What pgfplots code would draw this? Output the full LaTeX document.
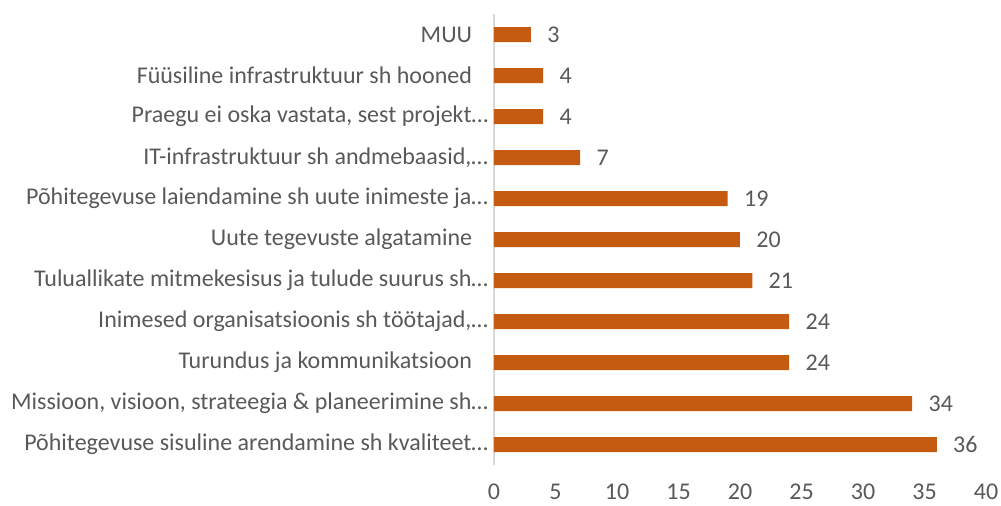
\documentclass[border=0pt]{standalone}
\usepackage{fontspec}
\setmainfont{Carlito}
\usepackage{pgfplots}
\pgfplotsset{compat=1.18}
\definecolor{barc}{HTML}{C55A11}
\definecolor{txt}{HTML}{595959}
\definecolor{axl}{HTML}{D9D9D9}
\begin{document}
\begin{tikzpicture}
\useasboundingbox (0,0) rectangle (500.5pt,252.5pt);
\begin{axis}[
  at={(247pt,20pt)}, anchor=south west,
  scale only axis, width=246pt, height=225.5pt,
  xbar, bar width=7.5pt,
  xmin=0, xmax=40, xtick={0,5,...,40},
  ymin=-0.5, ymax=10.5,
  ytick={0,...,10},
  yticklabels={
    {Põhitegevuse sisuline arendamine sh kvaliteet…},
    {Missioon, visioon, strateegia \& planeerimine sh…},
    {Turundus ja kommunikatsioon\hspace*{8pt}},
    {Inimesed organisatsioonis sh töötajad,…},
    {Tuluallikate mitmekesisus ja tulude suurus sh…},
    {Uute tegevuste algatamine\hspace*{8pt}},
    {Põhitegevuse laiendamine sh uute inimeste ja…},
    {IT-infrastruktuur sh andmebaasid,…},
    {Praegu ei oska vastata, sest projekt…},
    {Füüsiline infrastruktuur sh hooned\hspace*{8pt}},
    {MUU\hspace*{8pt}}},
  axis lines=left,
  x axis line style={draw=none},
  y axis line style={-, draw=axl, line width=0.8pt},
  tick align=outside,
  ytick style={draw=none},
  xtick style={draw=none},
  extra y ticks={-0.5,0.5,...,10.5},
  extra y tick labels={},
  extra y tick style={major tick length=3.5pt, tick style={draw=axl, line width=0.8pt}},
  ticklabel style={font=\fontsize{12}{14}\selectfont, text=txt},
  /pgf/number format/assume math mode=true,
  yticklabel style={anchor=east, inner sep=0pt, xshift=1.5pt},
  xticklabel style={anchor=north, inner sep=0pt, yshift=-5.2pt},
  nodes near coords,
  nodes near coords style={anchor=west, inner sep=0pt, xshift=8pt, font=\fontsize{12}{14}\selectfont, text=txt},
  clip=false,
]
\addplot[fill=barc, draw=none] coordinates {
  (36,0) (34,1) (24,2) (24,3) (21,4) (20,5) (19,6) (7,7) (4,8) (4,9) (3,10)};
\end{axis}
\end{tikzpicture}
\end{document}
